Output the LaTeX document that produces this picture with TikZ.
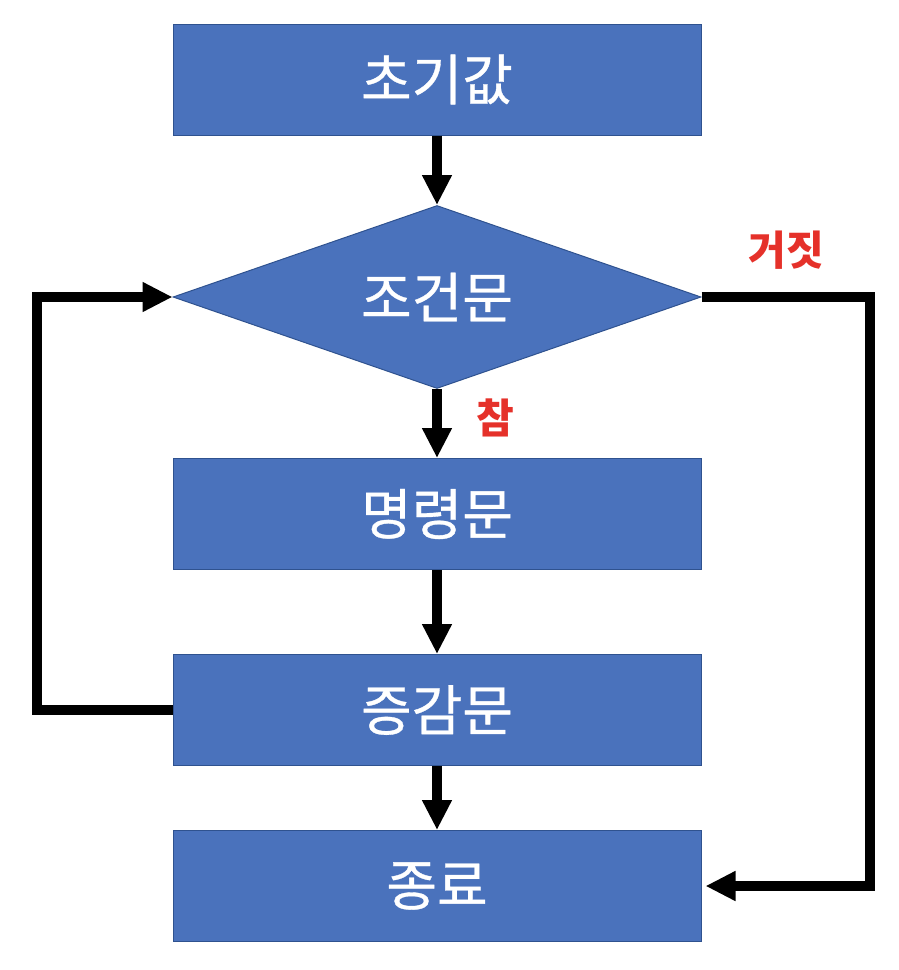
\documentclass[tikz,border=0pt]{standalone}
\usepackage{fontspec}
\usetikzlibrary{shapes.geometric,arrows.meta}
\newfontfamily\kr[FakeBold=0.6]{Noto Sans CJK KR}
\newfontfamily\krb{Noto Sans CJK KR}
\definecolor{boxfill}{HTML}{4A72BC}
\definecolor{boxline}{HTML}{2F528F}
\definecolor{lblred}{HTML}{E5312A}
\tikzset{
  boxtext/.style={text=white, font=\kr\fontsize{55pt}{60pt}\selectfont},
  boxnode/.style={rectangle, draw=boxline, line width=1pt, fill=boxfill, minimum width=528pt, minimum height=111pt, inner sep=0pt, boxtext},
  condnode/.style={diamond, draw=boxline, line width=1pt, fill=boxfill, minimum width=528pt, minimum height=183pt, inner sep=0pt},
  arr/.style={line width=10pt, -{Triangle[width=28pt,length=30pt]}, line join=miter},
  lbl/.style={text=lblred, font=\krb\bfseries\fontsize{41pt}{45pt}\selectfont, inner sep=0pt}
}
\begin{document}
\begin{tikzpicture}[x=1pt,y=-1pt]
\useasboundingbox (0,0) rectangle (898,970);
\node[boxnode] (init) at (437,79.5) {초기값};
\node[condnode, label={[boxtext, inner sep=0pt]center:조건문}] (cond) at (437,297) {};
\node[boxnode] (body) at (437,514) {명령문};
\node[boxnode] (inc) at (437,710) {증감문};
\node[boxnode] (fin) at (437,886) {종료};
\draw[arr] (init) -- (cond);
\draw[arr] (cond) -- (body);
\draw[arr] (body) -- (inc);
\draw[arr] (inc) -- (fin);
\draw[arr] (inc.west) -- ++(-136,0) |- (cond.west);
\draw[arr, shorten >=4pt] (cond.east) -- ++(168,0) |- (fin.east);
\node[lbl] (f) at (786,250) {거짓};
\node[lbl] (t) at (495,418) {참};
\end{tikzpicture}
\end{document}
